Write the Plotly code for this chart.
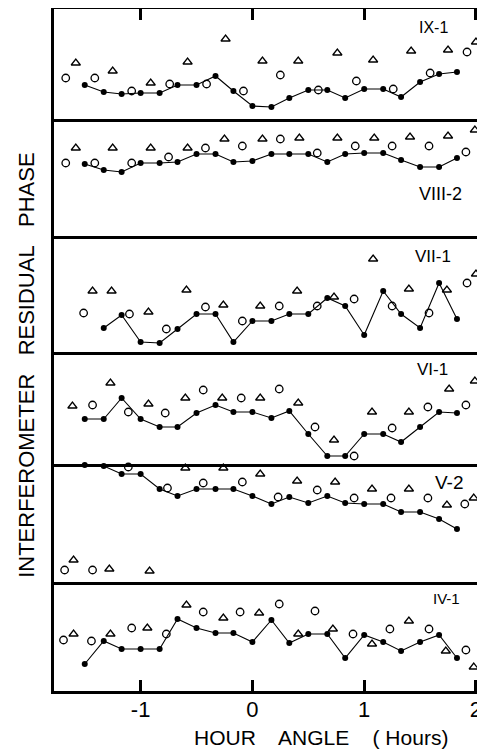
import plotly.graph_objects as go
from plotly.subplots import make_subplots

# ---------------- data ----------------
DOT_HOURS = [-1.5, -1.33, -1.17, -1.0, -0.83, -0.67, -0.5, -0.33, -0.17, 0.0,
             0.17, 0.33, 0.5, 0.67, 0.83, 1.0, 1.17, 1.33, 1.5, 1.67, 1.83]

PANEL_NAMES = ["IX-1", "VIII-2", "VII-1", "VI-1", "V-2", "IV-1"]

# IX-1
ix1_dot_x = DOT_HOURS
ix1_dot_y = [34, 27, 25, 26, 26, 34, 34, 43, 28, 13, 12, 21, 29, 29, 21, 30, 30, 22, 37, 45, 47]
ix1_circ_x = [-1.67, -1.41, -1.08, -0.74, -0.41, -0.08, 0.25, 0.59, 0.93, 1.26, 1.59, 1.92]
ix1_circ_y = [41, 41, 28, 35, 35, 28, 44, 29, 38, 30, 46, 67]
ix1_tri_x = [-1.58, -1.25, -0.91, -0.58, -0.24, 0.09, 0.41, 0.76, 1.08, 1.42, 1.75, 2.0]
ix1_tri_y = [56, 48, 36, 57, 80, 58, 58, 66, 59, 68, 69, 77]

# VIII-2
viii2_dot_x = DOT_HOURS
viii2_dot_y = [72, 66, 64, 73, 73, 74, 82, 82, 74, 75, 82, 82, 82, 74, 82, 83, 83, 76, 69, 69, 78]
viii2_circ_x = [-1.67, -1.41, -1.08, -0.75, -0.42, -0.09, 0.25, 0.58, 0.92, 1.25, 1.58, 1.91]
viii2_circ_y = [73, 73, 73, 79, 88, 90, 97, 83, 90, 90, 90, 84]
viii2_tri_x = [-1.58, -1.25, -0.91, -0.58, -0.25, 0.09, 0.42, 0.76, 1.09, 1.41, 1.75, 1.99]
viii2_tri_y = [88, 88, 88, 88, 97, 97, 98, 98, 98, 99, 100, 106]

# VII-1
vii1_dot_x = DOT_HOURS[1:]
vii1_dot_y = [24, 37, 10, 9, 23, 38, 38, 10, 31, 31, 38, 38, 54, 46, 17, 61, 38, 24, 69, 33]
vii1_circ_x = [-1.51, -1.10, -0.77, -0.42, -0.09, 0.24, 0.58, 0.91, 1.25, 1.58, 1.92]
vii1_circ_y = [39, 38, 23, 45, 31, 46, 46, 53, 46, 39, 69]
vii1_tri_x = [-1.43, -1.26, -0.93, -0.59, -0.26, 0.07, 0.40, 0.73, 1.08, 1.40, 1.74, 2.0]
vii1_tri_y = [61, 61, 40, 62, 47, 46, 61, 55, 93, 63, 62, 78]

# VI-1
vi1_dot_x = DOT_HOURS
vi1_dot_y = [45, 45, 66, 45, 37, 37, 51, 59, 52, 52, 46, 53, 30, 8, 8, 30, 30, 22, 37, 52, 51]
vi1_circ_x = [-1.43, -1.11, -0.78, -0.44, -0.10, 0.24, 0.56, 0.91, 1.25, 1.57, 1.91]
vi1_circ_y = [59, 52, 51, 74, 66, 75, 37, 8, 36, 57, 59]
vi1_tri_x = [-1.61, -1.27, -0.93, -0.60, -0.27, 0.07, 0.41, 0.73, 1.07, 1.40, 1.76, 1.99]
vi1_tri_y = [58, 81, 60, 66, 66, 66, 61, 24, 52, 52, 75, 83]

# V-2
v2_dot_x = DOT_HOURS
v2_dot_y = [117, 116, 108, 108, 93, 86, 93, 93, 93, 86, 78, 85, 79, 86, 79, 78, 78, 70, 70, 63, 53]
v2_circ_x = [-1.68, -1.43, -1.11, -0.76, -0.44, -0.09, 0.23, 0.58, 0.91, 1.24, 1.57, 1.90]
v2_circ_y = [12, 12, 115, 94, 99, 100, 85, 92, 84, 84, 84, 78]
v2_tri_x = [-1.60, -1.28, -0.92, -0.60, -0.26, 0.07, 0.40, 0.74, 1.07, 1.40, 1.74, 1.98]
v2_tri_y = [22, 13, 11, 114, 114, 108, 101, 100, 93, 93, 77, 84]

# IV-1
iv1_dot_x = DOT_HOURS
iv1_dot_y = [27, 50, 42, 42, 42, 72, 63, 58, 58, 49, 71, 48, 57, 57, 33, 56, 49, 40, 49, 56, 33]
iv1_circ_x = [-1.69, -1.44, -1.08, -0.77, -0.44, -0.11, 0.24, 0.56, 0.90, 1.23, 1.58, 1.91]
iv1_circ_y = [51, 50, 63, 57, 79, 79, 87, 80, 57, 62, 62, 41]
iv1_tri_x = [-1.60, -1.27, -0.94, -0.59, -0.26, 0.06, 0.41, 0.72, 1.07, 1.40, 1.73, 1.98]
iv1_tri_y = [57, 57, 63, 86, 73, 78, 57, 62, 47, 70, 40, 24]

X_TICKS = [-1, 0, 1, 2]
X_TICK_LABELS = ["-1", "0", "1", "2"]

# ---------------- layout helpers ----------------
panels = [
    (ix1_dot_x, ix1_dot_y, ix1_circ_x, ix1_circ_y, ix1_tri_x, ix1_tri_y),
    (viii2_dot_x, viii2_dot_y, viii2_circ_x, viii2_circ_y, viii2_tri_x, viii2_tri_y),
    (vii1_dot_x, vii1_dot_y, vii1_circ_x, vii1_circ_y, vii1_tri_x, vii1_tri_y),
    (vi1_dot_x, vi1_dot_y, vi1_circ_x, vi1_circ_y, vi1_tri_x, vi1_tri_y),
    (v2_dot_x, v2_dot_y, v2_circ_x, v2_circ_y, v2_tri_x, v2_tri_y),
    (iv1_dot_x, iv1_dot_y, iv1_circ_x, iv1_circ_y, iv1_tri_x, iv1_tri_y),
]
panel_heights = [110, 117, 116, 112, 118, 109]
label_pos = [(1.62, 92, 16), (1.68, 42, 18), (1.62, 96, 17),
             (1.61, 95, 17), (1.76, 100, 19), (1.74, 93, 15)]

FONT = "Liberation Sans"
X_RANGE = [-1.775, 2.045]

fig = make_subplots(rows=6, cols=1, shared_xaxes=True, vertical_spacing=0,
                    row_heights=panel_heights)

for i, (dx, dy, cx, cy, tx, ty) in enumerate(panels):
    r = i + 1
    fig.add_trace(go.Scatter(x=dx, y=dy, mode="lines+markers",
                             line=dict(color="black", width=1.1),
                             marker=dict(color="black", size=6),
                             cliponaxis=False, showlegend=False), row=r, col=1)
    fig.add_trace(go.Scatter(x=cx, y=cy, mode="markers",
                             marker=dict(symbol="circle-open", color="black", size=7.5,
                                         line=dict(width=1.3, color="black")),
                             cliponaxis=False, showlegend=False), row=r, col=1)
    fig.add_trace(go.Scatter(x=tx, y=ty, mode="markers",
                             marker=dict(symbol="triangle-up-open", color="black", size=8,
                                         line=dict(width=1.3, color="black")),
                             cliponaxis=False, showlegend=False), row=r, col=1)
    fig.update_yaxes(range=[0, panel_heights[i]], showline=True, mirror=True,
                     linecolor="black", linewidth=2.5, ticks="", showticklabels=False,
                     showgrid=False, zeroline=False, row=r, col=1)
    fig.update_xaxes(range=X_RANGE, showline=True, mirror=(r == 1), linecolor="black",
                     linewidth=2.5, showgrid=False, zeroline=False, ticks="",
                     showticklabels=False, row=r, col=1)
    lx, ly, ls = label_pos[i]
    fig.add_annotation(x=lx, y=ly, text=PANEL_NAMES[i], showarrow=False,
                       font=dict(family=FONT, size=ls, color="black"),
                       xanchor="center", yanchor="middle", row=r, col=1)

# top ticks on the first panel
fig.update_xaxes(side="top", ticks="inside", ticklen=11, tickwidth=2.5,
                 tickcolor="black", tickvals=X_TICKS, row=1, col=1)
# bottom ticks + labels on the last panel
fig.update_xaxes(ticks="inside", ticklen=11, tickwidth=2.5, tickcolor="black",
                 tickvals=X_TICKS, ticktext=X_TICK_LABELS, showticklabels=True,
                 ticklabelstandoff=-3,
                 tickfont=dict(family=FONT, size=22, color="black"), row=6, col=1)

fig.add_annotation(xref="paper", yref="paper", x=-0.066, y=0.478,
                   text="INTERFEROMETER\u00a0\u00a0 RESIDUAL\u00a0\u00a0 PHASE",
                   textangle=-90, showarrow=False, xanchor="center", yanchor="middle",
                   font=dict(family=FONT, size=22, color="black"))
fig.add_annotation(xref="paper", yref="paper", x=0.625, y=-0.068,
                   text="HOUR\u00a0\u00a0\u00a0 ANGLE\u00a0\u00a0\u00a0 ( Hours)",
                   showarrow=False, xanchor="center", yanchor="middle",
                   borderpad=0,
                   font=dict(family=FONT, size=21, color="black"))

# the page adds an 8px body margin, so the figure is 8px smaller and margins shifted
fig.update_layout(width=477, height=745,
                  margin=dict(l=46, r=4, t=1, b=62),
                  plot_bgcolor="white", paper_bgcolor="white",
                  showlegend=False)

fig.write_html("out.html")
